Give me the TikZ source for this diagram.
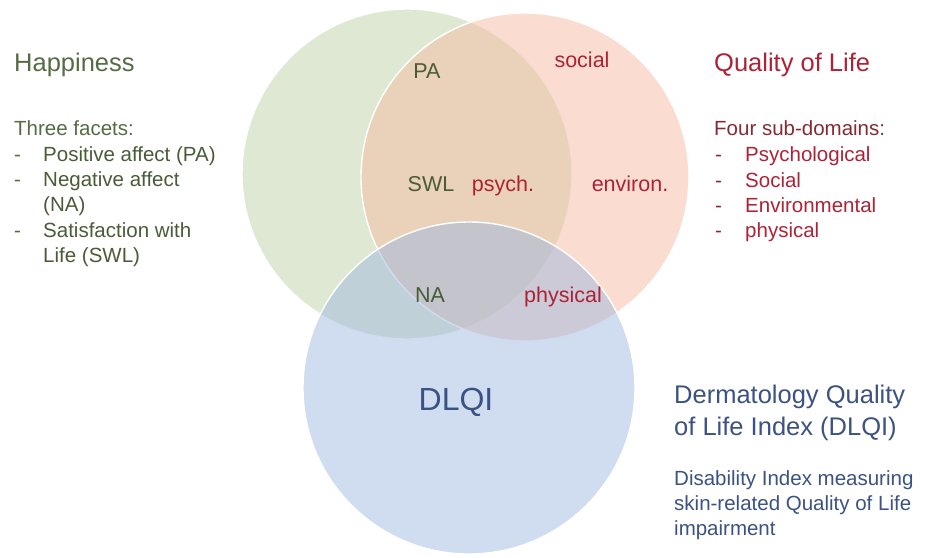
\documentclass[tikz,border=0pt]{standalone}
\usepackage{fontspec}
\setmainfont{Liberation Sans}
\usetikzlibrary{positioning}
\definecolor{hapF}{HTML}{BDD1A7}
\definecolor{qolF}{HTML}{F5BBA1}
\definecolor{dlqF}{HTML}{A1B9DF}
\definecolor{hapT}{HTML}{576B45}
\definecolor{hapD}{HTML}{4A5B38}
\definecolor{qolT}{HTML}{AE2236}
\definecolor{qolD}{HTML}{862A32}
\definecolor{dlqT}{HTML}{3B5282}
\tikzset{
  venn/.style={circle, draw=white, line width=1.4pt, fill opacity=0.5, inner sep=0pt},
  head/.style={anchor=base west, inner sep=0pt, font=\fontsize{25.5}{32}\selectfont},
  body/.style={anchor=base west, inner sep=0pt, font=\fontsize{20.5}{25}\selectfont},
  clab/.style={anchor=base, inner sep=0pt, font=\fontsize{21.5}{26}\selectfont},
  big/.style={anchor=base, inner sep=0pt, font=\fontsize{32}{38}\selectfont},
}

\begin{document}
\begin{tikzpicture}[x=1pt,y=-1pt]
\useasboundingbox (0,0) rectangle (929,557);

% ===================== the three sets =====================
\node[venn, fill=hapF, minimum size=330pt] (hapc) at (407,174) {};
\node[venn, fill=qolF, minimum size=328pt] (qolc) at (525,177) {};
\node[venn, fill=dlqF, minimum size=332pt] (dlqc) at (469,388) {};

% labels inside the circles
\node[clab, hapD] (pa) at (427,78) {PA};
\node[clab, qolT] (social) at (582,67) {social};
\node[clab, hapD] (swl) at (431,191) {SWL};
\node[clab, qolT] (psych) at (503,191) {psych.};
\node[clab, qolT] (environ) at (630,191) {environ.};
\node[clab, hapD] (na) at (430,302) {NA};
\node[clab, qolT] (physical) at (563,302) {physical};
\node[big, dlqT] (dlqi) at (456,410) {DLQI};

% ===================== happiness (left) =====================
\node[head, hapT] (hapTitle) at (14,71) {Happiness};
\node[body, hapT] (hapIntro) at (14,135) {Three facets:};
\foreach \y/\t [count=\i] in {161/{Positive affect (PA)}, 186/{Negative affect}, 211/{(NA)},
                                237/{Satisfaction with}, 262/{Life (SWL)}}
  \node[body, hapD] (hap\i) at (43,\y) {\t};
\foreach \y [count=\i] in {161,186,237}
  \node[body, hapT] (hapDash\i) at (14,\y) {-};

% ===================== quality of life (right) =====================
\node[head, qolT] (qolTitle) at (714,71) {Quality of Life};
\node[body, qolD] (qolIntro) at (714,135) {Four sub-domains:};
\foreach \y/\t [count=\i] in {161/Psychological, 187/Social, 212/Environmental, 237/physical}{
  \node[body, qolT] (qol\i) at (745,\y) {\t};
  \node[body, qolD] (qolDash\i) at (715,\y) {-};}

% ===================== DLQI (bottom right) =====================
\node[head, dlqT] (dlqTitle) at (674,403) {Dermatology Quality};
\node[head, dlqT] (dlqTitleB) at (674,435) {of Life Index (DLQI)};
\foreach \y/\t [count=\i] in {485/{Disability Index measuring}, 510/{skin-related Quality of Life},
                                535/impairment}
  \node[body, dlqT] (dlq\i) at (674,\y) {\t};

\end{tikzpicture}
\end{document}
